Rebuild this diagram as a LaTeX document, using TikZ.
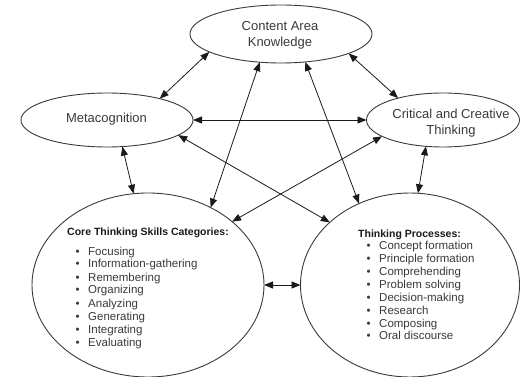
\documentclass[tikz,border=0pt]{standalone}
\usepackage{fontspec}
\setmainfont{Liberation Sans}
\usetikzlibrary{shapes.geometric,arrows.meta}
\definecolor{ink}{HTML}{1A1A1A}
\definecolor{rim}{HTML}{3A3A3A}
\definecolor{txt}{HTML}{3A3A3A}
\newcommand\itembul{\makebox[0pt][r]{\textbullet\hspace{8.5pt}}}
\begin{document}
\begin{tikzpicture}[x=1pt,y=-1pt,
  blob/.style={draw=rim,line width=0.9pt,ellipse,inner sep=0pt,outer sep=0pt},
  lbl/.style={font=\fontsize{13}{16}\selectfont,text=txt,align=center,inner sep=0pt},
  head/.style={font=\fontsize{10.5}{12}\selectfont\bfseries,text=ink,anchor=base west,inner sep=0pt},
  item/.style={font=\fontsize{11.5}{13}\selectfont,text=txt,anchor=base west,inner sep=0pt},
  link/.style={draw=ink,line width=0.8pt,{Triangle[length=9pt,width=7pt]}-{Triangle[length=9pt,width=7pt]}}]
\fill[white] (0,0) rectangle (520,377);
\useasboundingbox (0,0) rectangle (520,377);
% ellipses
\node[blob,minimum width=182pt,minimum height=58pt] (cak) at (281,34) {};
\node[blob,minimum width=172pt,minimum height=54pt] (meta) at (107,120) {};
\node[blob,minimum width=153pt,minimum height=54pt] (crit) at (443,120) {};
\node[blob,minimum width=232pt,minimum height=184pt] (core) at (148,285) {};
\node[blob,minimum width=219pt,minimum height=184pt] (proc) at (410,285) {};
% labels
\node[lbl] (cakl) at (280,35) {Content Area\\Knowledge};
\node[lbl] (metal) at (106.5,119) {Metacognition};
\node[lbl] (critl) at (451,123) {Critical and Creative\\Thinking};
\node[head] (coreh) at (67,236) {Core Thinking Skills Categories:};
\foreach \t [count=\i] in {Focusing,Information-gathering,Remembering,Organizing,Analyzing,Generating,Integrating,Evaluating}
  \node[item] (core\i) at (88,{255+13*(\i-1)}) {\itembul\t};
\node[head] (proch) at (358,237) {Thinking Processes:};
\foreach \t [count=\i] in {Concept formation,Principle formation,Comprehending,Problem solving,Decision-making,Research,Composing,Oral discourse}
  \node[item] (proc\i) at (379,{250+12.85*(\i-1)}) {\itembul\t};
% connectors
\draw[link] (cak.194) -- (meta.22.7);
\draw[link] (cak.344) -- (crit.154.4);
\draw[link] (meta.east) -- (crit.west);
\draw[link] (meta.300) -- (core.99.9);
\draw[link] (meta.348) -- (proc.142.2);
\draw[link] (crit.237.3) -- (proc.85.6);
\draw[link] (crit.195.1) -- (core.37.8);
\draw[link] (core.51.9) -- (cak.233.4);
\draw[link] (proc.122.7) -- (cak.311);
\draw[link] (core.east) -- (proc.west);
\end{tikzpicture}
\end{document}
